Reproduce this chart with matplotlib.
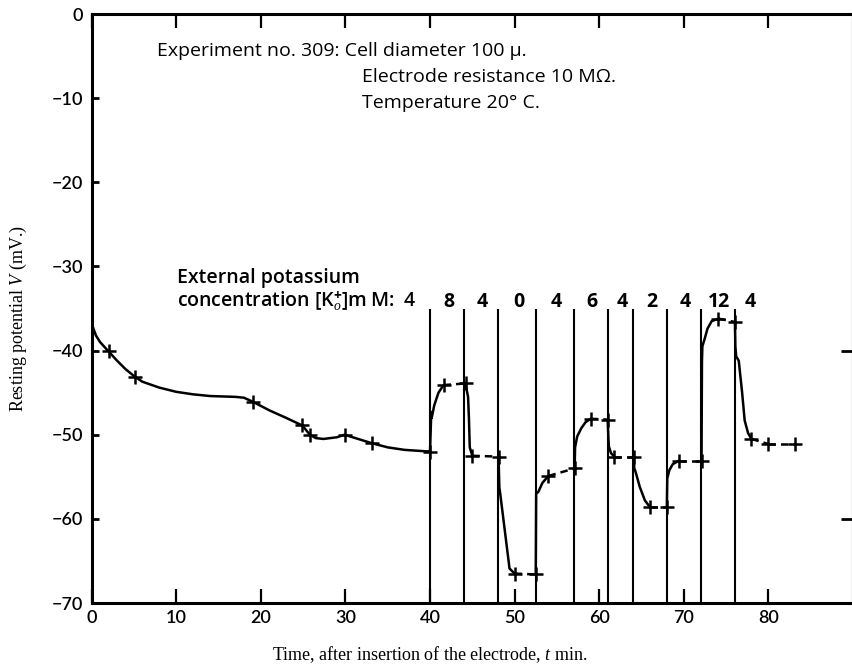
import numpy as np
import matplotlib
matplotlib.use('Agg')
import matplotlib.pyplot as plt

plt.rcParams['font.family'] = ['Lato', 'DejaVu Sans']
plt.rcParams['mathtext.fontset'] = 'custom'
plt.rcParams['mathtext.rm'] = 'Open Sans:bold'
plt.rcParams['mathtext.it'] = 'Liberation Serif:italic'

nan = np.nan
# continuous trace of resting potential (mV) against time (min), pieces split by nan
trace_t = [0, 0.5, 1, 2, 3, 4, 5.1, 6, 8, 10, 12, 14, 17, 18, 19.1, 21, 23, 24.9, 25.8,
           26.5, 27.4, 29.0, 29.9, 31.5, 33.1, 35, 37, 40, nan,
           40, 40.15, 40.2, 40.5, 41, 41.6, nan,
           44.2, 44.3, 44.5, 44.6, 44.7, 45.0, nan,
           48.1, 48.2, 48.3, 49.4, 50.0, nan,
           52.5, 52.55, 52.8, 53.3, 54.0, nan,
           57.1, 57.15, 57.4, 57.9, 58.4, 59.0, nan,
           61.0, 61.1, 61.15, 61.4, 61.8, nan,
           64.1, 64.15, 64.3, 64.8, 65.4, 66.0, nan,
           68.0, 68.05, 68.3, 68.7, 69.4, nan,
           72.1, 72.15, 72.2, 72.5, 72.8, 73.3, 74.1, nan,
           76.05, 76.1, 76.2, 76.5, 76.9, 77.2, 77.6, 78.0]
trace_v = [-36.8, -38.2, -39.0, -40.1, -41.2, -42.2, -43.1, -43.7, -44.4, -44.9, -45.2, -45.4, -45.5, -45.6, -46.1, -47.1, -48.0, -48.9, -50.0,
           -50.4, -50.5, -50.3, -50.0, -50.5, -51.0, -51.5, -51.8, -52.0, nan,
           -52.0, -47.3, -48.0, -46.5, -45.0, -44.1, nan,
           -43.9, -44.5, -45.5, -48.0, -51.5, -52.5, nan,
           -52.6, -56.3, -57.0, -65.9, -66.5, nan,
           -66.6, -57.0, -56.8, -55.7, -54.9, nan,
           -54.0, -51.5, -50.2, -49.2, -48.5, -48.1, nan,
           -48.2, -50.6, -51.4, -52.2, -52.6, nan,
           -52.6, -54.0, -54.4, -56.2, -57.8, -58.6, nan,
           -58.6, -55.2, -54.2, -53.5, -53.1, nan,
           -53.1, -41.3, -39.5, -38.5, -37.4, -36.5, -36.2, nan,
           -36.6, -39.5, -40.7, -41.2, -45.0, -48.3, -49.8, -50.5]

# measured points (crosses)
cross_t = [2, 5.1, 19.1, 24.9, 25.8, 29.9, 33.1, 40.0, 41.6, 44.2, 45.0, 48.1, 50.0, 52.5,
           54.0, 57.1, 59.0, 61.0, 61.8, 64.1, 66.0, 68.0, 69.4, 72.1, 74.1, 76.05, 78.0, 80.0, 83.2]
cross_v = [-40.1, -43.1, -46.1, -48.9, -50.0, -50.0, -51.0, -52.0, -44.1, -43.9, -52.5, -52.6, -66.5, -66.6,
           -54.9, -54.0, -48.1, -48.2, -52.6, -52.6, -58.6, -58.6, -53.1, -53.1, -36.2, -36.6, -50.5, -51.1, -51.1]
# steady levels drawn dashed between these crosses
plateaus = [(8, 9), (10, 11), (12, 13), (14, 15), (16, 17), (18, 19), (20, 21),
            (22, 23), (24, 25), (26, 27), (27, 28)]

# solution changes and external K concentration (mM) after each change
switch_t = [40, 44, 48, 52.5, 57, 61, 64, 68, 72, 76]
conc = ['8', '4', '0', '4', '6', '4', '2', '4', '12', '4']

fig = plt.figure(figsize=(8.52, 6.71), dpi=100)
ax = fig.add_axes([0.1076, 0.1013, 0.8935, 0.8778])

ax.vlines(switch_t, -70, -35, color='black', lw=1.5)
ax.plot(trace_t, trace_v, color='black', lw=1.8, solid_capstyle='round')
for i, j in plateaus:
    ax.plot([cross_t[i], cross_t[j]], [cross_v[i], cross_v[j]], color='black',
            lw=1.8, dashes=(3, 2))
ax.plot(cross_t, cross_v, ls='none', marker='+', ms=10, mew=1.8, color='black')

lab = dict(family=['Open Sans', 'DejaVu Sans'], fontsize=14, va='baseline')

# concentration labels centred in each interval
ends = switch_t[1:] + [switch_t[-1] + 3.2]
for a, b, c in zip(switch_t, ends, conc):
    ax.text((a + b) / 2 + 0.2, -34.8, c, ha='center', weight='bold', **lab)

ax.text(10.1, -32.0, 'External potassium', weight='semibold', **lab)
ax.text(10.1, -34.8, 'concentration [K$^{+}_{o}$]m\u2009M:  4', weight='semibold', **lab)

ax.text(7.7, -5.0, 'Experiment no. 309: Cell diameter 100 \u00b5.', **lab)
ax.text(31.9, -8.05, 'Electrode resistance 10 M\u03a9.', **lab)
ax.text(31.9, -11.2, 'Temperature 20\u00b0 C.', **lab)

ax.set_xlim(0, 90)
ax.set_ylim(-70, 0)
ax.set_xticks(range(0, 81, 10))
ax.set_yticks(range(-70, 1, 10))
for s in ax.spines.values():
    s.set_linewidth(2.2)
ax.tick_params(axis='x', direction='in', length=10, width=1.6, top=True, labelsize=13, pad=5)
ax.tick_params(axis='y', direction='in', length=5, width=2, labelsize=13, pad=6)
for t in ax.get_xticklabels() + ax.get_yticklabels():
    t.set_fontweight('semibold')

sec = ax.secondary_yaxis('right')
sec.set_yticks([-40, -60])
sec.tick_params(direction='in', length=9, width=2, labelright=False)
sec.spines['right'].set_linewidth(2.2)

fig.text(430 / 852, 1 - 655 / 671, 'Time, after insertion of the electrode, $t$ min.',
         ha='center', va='center', fontsize=13, family='Liberation Serif')
fig.text(18 / 852, 1 - 318 / 671, 'Resting potential $V$ (mV.)', rotation=90,
         ha='center', va='center', fontsize=13, family='Liberation Serif')

fig.savefig('out.png', dpi=100)
